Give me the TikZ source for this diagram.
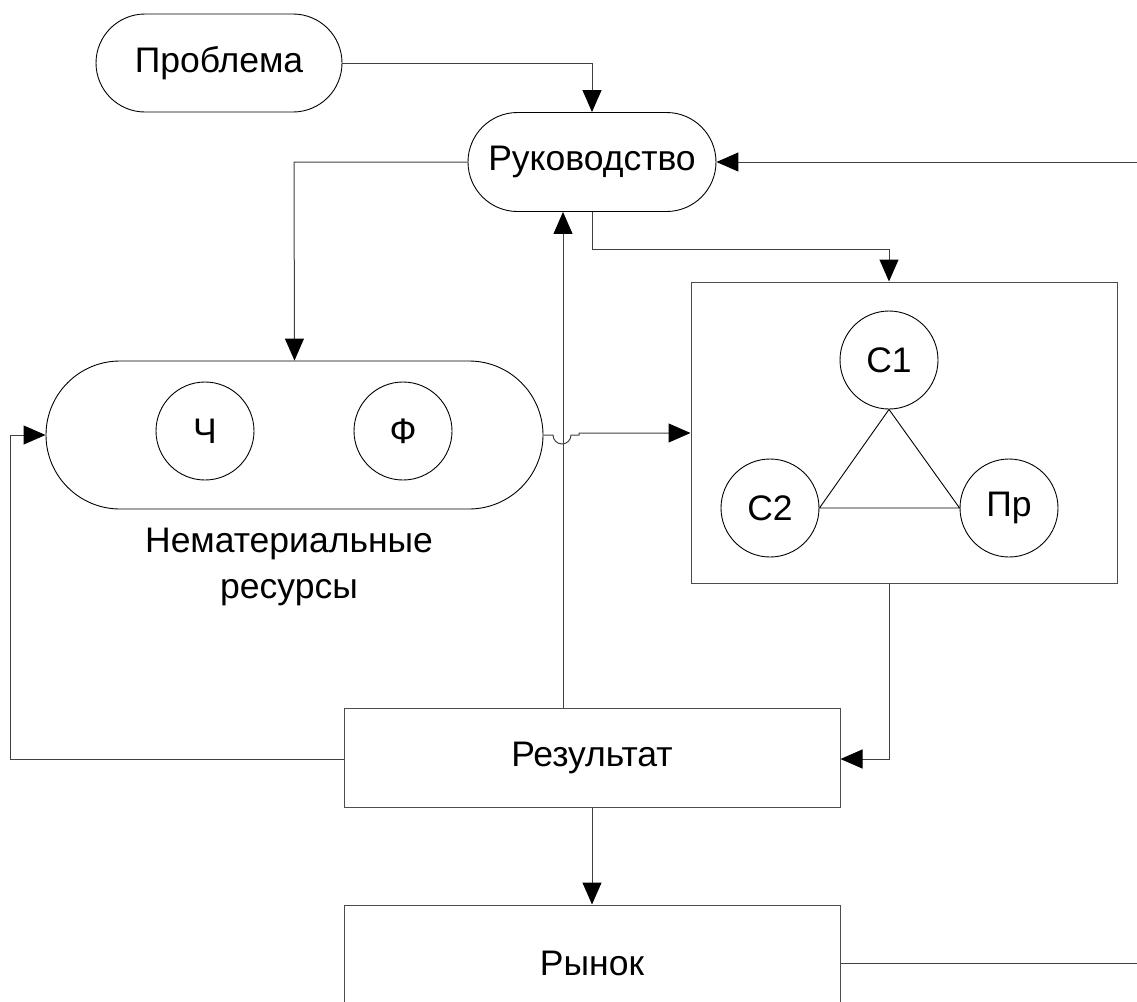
\documentclass[tikz,border=0pt]{standalone}
\usepackage{fontspec}
\setmainfont{Liberation Sans}
\usetikzlibrary{shapes.misc,arrows.meta}
\begin{document}
\begin{tikzpicture}[x=1pt,y=-1pt,
  every node/.style={font=\fontsize{35.5}{46}\selectfont, text=black},
  pill/.style={draw=black, line width=0.9pt, rounded rectangle, rounded rectangle arc length=180, inner sep=0pt},
  disc/.style={draw=black, line width=0.9pt, circle, minimum size=98pt, inner sep=0pt},
  block/.style={draw=black!70, line width=1pt, rectangle, inner sep=0pt},
  link/.style={draw=black!75, line width=1pt, -{Triangle[length=22pt,width=19pt,color=black,fill=black]}},
  plain/.style={draw=black!75, line width=1pt}]
\useasboundingbox (0,0) rectangle (1137,1001);
\clip (0,0) rectangle (1137,1001);

% top-level nodes
\node[pill, minimum width=246pt, minimum height=98pt] (prob) at (219,63) {Проблема};
\node[pill, minimum width=248pt, minimum height=99pt] (ruk) at (592,162) {Руководство};

% intangible resources
\node[pill, minimum width=497pt, minimum height=148pt] (nem) at (294.5,435) {};
\node[disc] (ch) at (205,431) {Ч};
\node[disc] (ph) at (403,431) {Ф};
\node[align=center, font=\fontsize{35.5}{46}\selectfont] (nemlbl) at (289,567) {Нематериальные\\ресурсы};

% right-hand block with the triangle
\node[block, minimum width=426pt, minimum height=301pt] (tri) at (904,432.5) {};
\node[disc] (c1) at (889,360) {С1};
\node[disc] (c2) at (770,508) {С2};
\node[disc] (pr) at (1009,508) {Пр};
\draw[line width=0.9pt] (c1.south) -- (c2.east) -- (pr.west) -- cycle;

% result and market
\node[block, minimum width=496pt, minimum height=99pt] (res) at (592,757.5) {Результат};
\node[block, minimum width=496pt, minimum height=116pt] (market) at (592,963) {Рынок};

% connectors
\coordinate (rightA) at (1137,162);
\coordinate (rightB) at (1137,963);
\draw[link] (prob.east) -- (592,63) -- (ruk.north);
\draw[link] (rightA) -- (ruk.east);
\draw[link] (ruk.west) -- (294,162) -- (nem.north);
\draw[link] (ruk.south) -- (592,249) -- (889,249) -- (tri.north -| c1);
\draw[link] (res.north -| 563,0) -- (ruk.south -| 563,0);
\draw[link] (nem.east) -- (553,435) arc[start angle=180, end angle=0, radius=9] -- (579,435) -- (579,433) -- (tri.west |- 0,433);
\draw[link] (res.west |- 0,759) -- (10,759) -- (10,435) -- (nem.west);
\draw[link] (tri.south -| c1) -- (889,759) -- (res.east |- 0,759);
\draw[link] (res.south) -- (market.north);
\draw[plain] (market.east |- rightB) -- (rightB);
\end{tikzpicture}
\end{document}
